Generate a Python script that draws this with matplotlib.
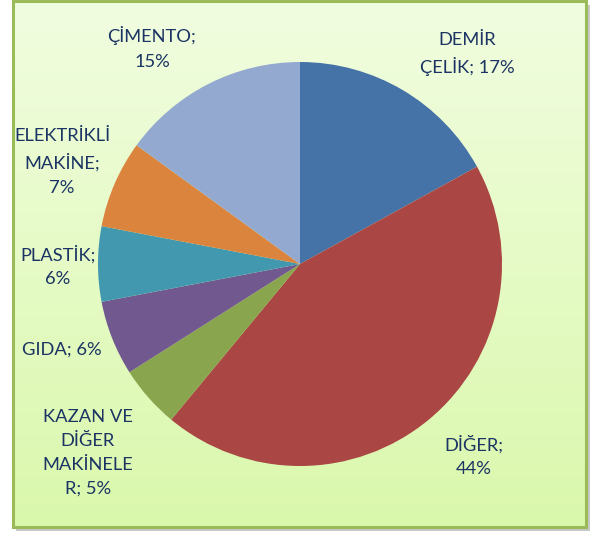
import matplotlib
matplotlib.use("Agg")
import matplotlib.pyplot as plt
import numpy as np
from matplotlib.patches import Rectangle

categories = ["DEMİR\nÇELİK; 17%", "DİĞER;\n44%", "KAZAN VE\nDİĞER\nMAKİNELE\nR; 5%", "GIDA; 6%",
              "PLASTİK;\n6%", "ELEKTRİKLİ\nMAKİNE;\n7%", "ÇİMENTO;\n15%"]
values = [17, 44, 5, 6, 6, 7, 15]
colors = ["#4572A7", "#AA4643", "#89A54E", "#71588F", "#4198AF", "#DB843D", "#93A9CF"]
# label centres in pixel coords (x, y from top)
label_pos = [(467, 54), (474, 456), (88, 453), (62, 350), (58, 266), (62, 162), (152, 48)]

W, H = 593, 533
fig = plt.figure(figsize=(W / 100, H / 100), dpi=100)
ax = fig.add_axes([0, 0, 1, 1])
ax.set_xlim(0, W)
ax.set_ylim(0, H)
ax.set_aspect("equal")
ax.axis("off")

# shadow
ax.add_patch(Rectangle((16, 2), 574, 526, facecolor="#c8c8c8", edgecolor="none", zorder=0))
# gradient background
x0, x1, ytop, ybot = 13, 586, H - 1, H - 527
top = np.array([241, 253, 224]) / 255
bot = np.array([218, 248, 172]) / 255
t = np.linspace(0, 1, 256)[:, None]
grad = (top[None, :] * (1 - t) + bot[None, :] * t)[:, None, :]
ax.imshow(grad, extent=(x0, x1, ybot, ytop), aspect="auto", zorder=1, origin="upper")
ax.add_patch(Rectangle((x0, ybot), x1 - x0, ytop - ybot, facecolor="none",
                       edgecolor="#9BBB59", linewidth=2.2, zorder=2))

cx, cy, r = 300, H - 264, 202
wedges, _ = ax.pie(values, colors=colors, startangle=90, counterclock=False,
                   center=(cx, cy), radius=r, frame=True,
                   wedgeprops=dict(linewidth=0, zorder=3))
for w in wedges:
    w.set_zorder(3)
ax.set_xlim(0, W)
ax.set_ylim(0, H)
ax.axis("off")

for lab, (px, py) in zip(categories, label_pos):
    ax.text(px, H - py, lab, ha="center", va="center", fontsize=13.2, family="Lato",
            color="#1B3463", linespacing=1.62, zorder=4)

fig.savefig("out.png", dpi=100)
